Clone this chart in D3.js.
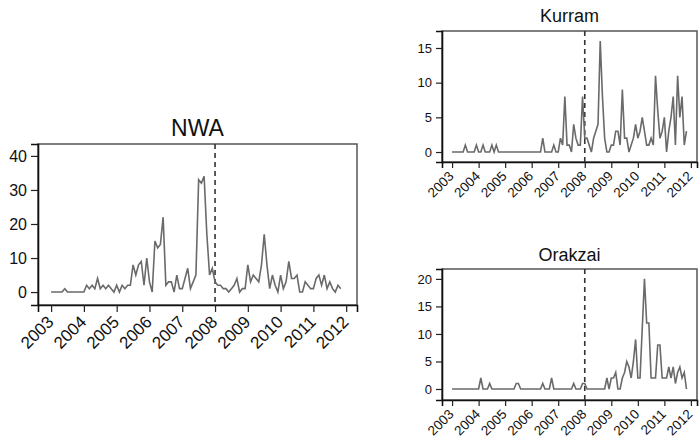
<!DOCTYPE html>
<html>
<head>
<meta charset="utf-8">
<script src="https://cdn.jsdelivr.net/npm/d3@7"></script>
<style>
  body { margin: 0; background: #fff; }
  svg { display: block; font-family: "Liberation Sans", Arial, sans-serif; }
</style>
</head>
<body>
<svg width="700" height="437"></svg>
<script>
// monthly counts, Jan 2003 .. Nov 2011
const years = [2003, 2004, 2005, 2006, 2007, 2008, 2009, 2010, 2011, 2012];
const startYear = 2003;
const breakYear = 2008;

const nwa = [
    0, 0, 0, 0, 0, 1, 0, 0, 0, 0, 0, 0,
    0, 2, 1, 2, 1, 4, 1, 2, 1, 2, 1, 0,
    2, 0, 2, 1, 2, 2, 8, 5, 8, 9, 2, 10,
    3, 0, 15, 13, 14, 22, 2, 3, 3, 0, 5, 1,
    1, 4, 7, 1, 3, 5, 33, 32, 34, 17, 5, 7,
    3, 2, 2, 1, 1, 0, 1, 2, 4, 0, 1, 1,
    8, 3, 5, 4, 3, 8, 17, 8, 1, 5, 2, 0,
    5, 1, 3, 9, 4, 4, 5, 0, 0, 3, 2, 1,
    1, 4, 5, 2, 5, 1, 3, 1, 0, 2, 1
];
const kurram = [
    0, 0, 0, 0, 0, 0, 1, 0, 0, 0, 0, 1,
    0, 0, 1, 0, 0, 0, 1, 0, 1, 0, 0, 0,
    0, 0, 0, 0, 0, 0, 0, 0, 0, 0, 0, 0,
    0, 0, 0, 0, 0, 2, 0, 0, 0, 0, 1, 0,
    0, 2, 1, 8, 1, 1, 0, 4, 2, 1, 1, 8,
    2, 2, 1, 0, 2, 3, 4, 16, 8, 2, 0, 0,
    1, 1, 3, 3, 1, 9, 2, 2, 0, 1, 2, 4,
    2, 3, 5, 3, 1, 1, 2, 1, 11, 6, 2, 3,
    5, 0, 3, 5, 8, 1, 11, 5, 8, 1, 3
];
const orakzai = [
    0, 0, 0, 0, 0, 0, 0, 0, 0, 0, 0, 0,
    0, 2, 0, 0, 0, 1, 0, 0, 0, 0, 0, 0,
    0, 0, 0, 0, 0, 1, 1, 0, 0, 0, 0, 0,
    0, 0, 0, 0, 0, 1, 0, 0, 0, 2, 0, 0,
    0, 0, 0, 0, 0, 0, 0, 1, 0, 0, 0, 1,
    1, 0, 0, 0, 0, 0, 0, 0, 0, 0, 2, 0,
    2, 2, 3, 0, 0, 2, 3, 5, 4, 2, 5, 9,
    2, 2, 11, 20, 12, 12, 2, 2, 2, 8, 8, 2,
    2, 2, 4, 2, 4, 1, 3, 4, 2, 3, 0
];

const nwaTicks = [0, 10, 20, 30, 40];
const kurramTicks = [0, 5, 10, 15];
const orakzaiTicks = [0, 5, 10, 15, 20];

const panels = [
    { title: "NWA", values: nwa, yTicks: nwaTicks,
      left: 38, right: 357, top: 144, bottom: 305,
      xDom: [2002.6, 2012.33], yDom: [-3.8, 43.5],
      font: 16, xFont: 17, titleSize: 23, titleY: 136, tick: 7, labDy: 18, labDx: 3 },
    { title: "Kurram", values: kurram, yTicks: kurramTicks,
      left: 442, right: 697, top: 31, bottom: 162,
      xDom: [2002.62, 2012.23], yDom: [-1.44, 17.45],
      font: 13, xFont: 13.5, titleSize: 18, titleY: 22, tick: 6, labDy: 15, labDx: 2 },
    { title: "Orakzai", values: orakzai, yTicks: orakzaiTicks,
      left: 442, right: 697, top: 269, bottom: 400,
      xDom: [2002.62, 2012.23], yDom: [-2, 21.8],
      font: 13, xFont: 13.5, titleSize: 18, titleY: 261, tick: 6, labDy: 15, labDx: 2 }
];

const svg = d3.select("svg");
svg.append("rect").attr("width", 700).attr("height", 437).attr("fill", "#fff");

function drawPanel(p) {
    const scX = d3.scaleLinear().domain(p.xDom).range([p.left, p.right]);
    const scY = d3.scaleLinear().domain(p.yDom).range([p.bottom, p.top]);

    // frame
    svg.append("rect")
        .attr("x", p.left).attr("y", p.top)
        .attr("width", p.right - p.left).attr("height", p.bottom - p.top)
        .attr("fill", "none").attr("stroke", "#555").attr("stroke-width", 1.5);

    const axisY = d3.axisLeft(scY).tickValues(p.yTicks).tickSize(p.tick).tickPadding(4);
    const gy = svg.append("g")
        .attr("transform", `translate(${p.left},0)`)
        .call(axisY);
    gy.select(".domain").attr("stroke", "#111").attr("stroke-width", 1.6);
    gy.selectAll(".tick line").attr("stroke", "#222").attr("stroke-width", 1.2);
    gy.selectAll("text").attr("font-size", p.font).attr("fill", "#111")
        .attr("font-family", "Liberation Sans, Arial, sans-serif");

    const axisX = d3.axisBottom(scX).tickValues(years).tickFormat(d3.format("d"))
        .tickSize(p.tick);
    const gx = svg.append("g")
        .attr("transform", `translate(0,${p.bottom})`)
        .call(axisX);
    gx.select(".domain").attr("stroke", "#111").attr("stroke-width", 1.6);
    gx.selectAll(".tick line").attr("stroke", "#222").attr("stroke-width", 1.2);
    gx.selectAll("text")
        .attr("font-size", p.xFont).attr("fill", "#111")
        .attr("font-family", "Liberation Sans, Arial, sans-serif")
        .attr("x", null).attr("y", null).attr("dy", null)
        .style("text-anchor", "end")
        .attr("transform", `translate(${p.labDx},${p.labDy}) rotate(-45)`);

    // dashed break line
    svg.append("line")
        .attr("x1", scX(breakYear)).attr("x2", scX(breakYear))
        .attr("y1", p.top).attr("y2", p.bottom)
        .attr("stroke", "#333").attr("stroke-width", 1.6)
        .attr("stroke-dasharray", "5,4");

    const line = d3.line()
        .x((d, i) => scX(startYear + i / 12))
        .y(d => scY(d));

    svg.append("path")
        .datum(p.values)
        .attr("d", line)
        .attr("fill", "none")
        .attr("stroke", "#6a6a6a")
        .attr("stroke-width", 1.6)
        .attr("stroke-linejoin", "miter");

    svg.append("text")
        .attr("x", (p.left + p.right) / 2)
        .attr("y", p.titleY)
        .attr("text-anchor", "middle")
        .attr("font-size", p.titleSize)
        .attr("fill", "#111")
        .text(p.title);
}

panels.forEach(drawPanel);
</script>
</body>
</html>
